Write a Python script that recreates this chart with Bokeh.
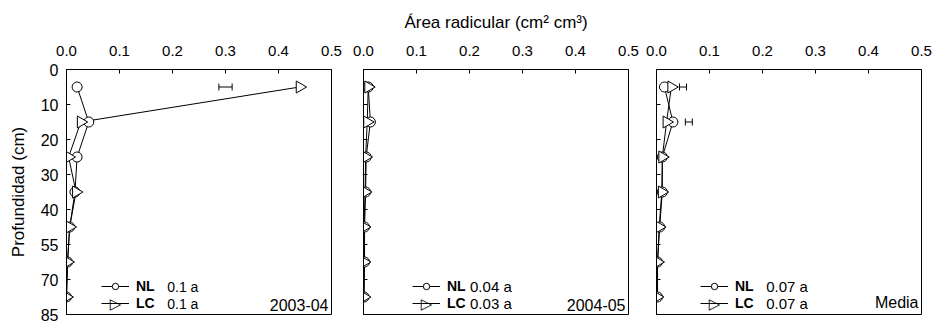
import math
from bokeh.plotting import figure
from bokeh.layouts import row
from bokeh.models import (Range1d, FixedTicker, Legend, LegendItem, Label, Whisker,
                          ColumnDataSource, TeeHead, NumeralTickFormatter)
from bokeh.embed import file_html
from bokeh.resources import INLINE

FONT = "Liberation Sans"

# ---- data ----
depth_labels = ["0", "10", "20", "30", "40", "55", "70", "85"]
depth_pos = [0.5, 1.5, 2.5, 3.5, 4.5, 5.5, 6.5]   # midpoint of each depth layer (layer index)
x_ticks = [0.0, 0.1, 0.2, 0.3, 0.4, 0.5]

panel_names = ["2003-04", "2004-05", "Media"]
nl_2003 = [0.020, 0.042, 0.020, 0.016, 0.006, 0.002, 0.000]
lc_2003 = [0.440, 0.027, 0.004, 0.018, 0.006, 0.002, 0.000]
nl_2004 = [0.009, 0.013, 0.005, 0.004, 0.002, 0.002, 0.001]
lc_2004 = [0.009, 0.007, 0.004, 0.003, 0.001, 0.001, 0.001]
nl_media = [0.015, 0.031, 0.011, 0.011, 0.006, 0.002, 0.002]
lc_media = [0.028, 0.019, 0.011, 0.010, 0.005, 0.002, 0.001]
nl_means = ["0.1 a", "0.04 a", "0.07 a"]
lc_means = ["0.1 a", "0.03 a", "0.07 a"]

err_2003_depth = [0.5]
err_2003_center = [0.300]
err_2003_half = [0.0125]
err_media_depth = [0.5, 1.5]
err_media_center = [0.050, 0.061]
err_media_half = [0.0066, 0.0066]

x_title = "Área radicular (cm² cm³)"
y_title = "Profundidad (cm)"

PX_X = 0.5 / 265.0   # data units per pixel (x)
PX_Y = 7.0 / 245.0   # data units per pixel (y)


def make_panel(idx, nl, lc, err, border_l, border_r, legend_x, mean_x, mean_size):
    p = figure(frame_width=265, frame_height=245, x_range=Range1d(0, 0.5),
               y_range=Range1d(7, 0), x_axis_location="above",
               output_backend="svg", toolbar_location=None,
               min_border_left=border_l, min_border_right=border_r,
               min_border_top=69, min_border_bottom=8)
    p.background_fill_color = "white"
    p.border_fill_color = "white"
    p.outline_line_color = "black"
    p.outline_line_width = 1
    p.outline_line_alpha = 1
    p.xgrid.visible = False
    p.ygrid.visible = False

    xa = p.xaxis[0]
    xa.ticker = FixedTicker(ticks=x_ticks)
    xa.formatter = NumeralTickFormatter(format="0.0")
    xa.major_tick_in = 4
    xa.major_tick_out = 0
    xa.minor_tick_line_color = None
    xa.axis_line_color = "black"
    xa.major_label_text_font = FONT
    xa.major_label_text_font_size = "15px"
    xa.major_label_text_color = "black"
    xa.major_label_standoff = 14
    if idx == 1:
        xa.axis_label = x_title
        xa.axis_label_text_font = FONT
        xa.axis_label_text_font_size = "17px"
        xa.axis_label_text_font_style = "normal"
        xa.axis_label_text_color = "black"
        xa.axis_label_standoff = 11

    ya = p.yaxis[0]
    ya.axis_line_color = "black"
    if idx == 0:
        ya.ticker = FixedTicker(ticks=list(range(len(depth_labels))))
        ya.major_tick_in = 4
        ya.major_tick_out = 0
        ya.minor_tick_line_color = None
        ya.major_label_overrides = {i: s for i, s in enumerate(depth_labels)}
        ya.major_label_text_font = FONT
        ya.major_label_text_font_size = "16px"
        ya.major_label_text_color = "black"
        ya.major_label_standoff = 8
        ya.axis_label = y_title
        ya.axis_label_text_font = FONT
        ya.axis_label_text_font_size = "17px"
        ya.axis_label_text_font_style = "normal"
        ya.axis_label_text_color = "black"
        ya.axis_label_standoff = 10
    else:
        # unlabeled depth ticks (drawn as minor ticks so no label texts exist)
        ya.ticker = FixedTicker(ticks=[], minor_ticks=list(range(len(depth_labels))))
        ya.major_tick_line_color = None
        ya.minor_tick_in = 4
        ya.minor_tick_out = 0
        ya.minor_tick_line_color = "black"
        ya.major_label_standoff = 0

    if err is not None:
        d, c, h = err
        src = ColumnDataSource(dict(depth=d, lower=[a - b for a, b in zip(c, h)],
                                    upper=[a + b for a, b in zip(c, h)]))
        w = Whisker(source=src, base="depth", lower="lower", upper="upper",
                    dimension="width", line_color="black", line_width=1,
                    lower_head=TeeHead(size=7, line_color="black", line_width=1),
                    upper_head=TeeHead(size=7, line_color="black", line_width=1))
        p.add_layout(w)

    nl_line = p.line(nl, depth_pos, line_color="black", line_width=1)
    lc_line = p.line(lc, depth_pos, line_color="black", line_width=1)
    nl_mk = p.scatter(nl, depth_pos, marker="circle", size=10, fill_color="white",
                      line_color="black", line_width=1)
    lc_mk = p.scatter(lc, depth_pos, marker="triangle", size=12, angle=-math.pi / 2,
                      fill_color="white", line_color="black", line_width=1)

    leg = Legend(items=[LegendItem(label="NL", renderers=[nl_line, nl_mk]),
                        LegendItem(label="LC", renderers=[lc_line])],
                 location=(legend_x, 3), orientation="vertical",
                 label_text_font=FONT, label_text_font_size="14px",
                 label_text_font_style="bold", label_text_color="black",
                 glyph_width=28, glyph_height=16, label_height=16, spacing=1,
                 padding=0, margin=0, label_standoff=7,
                 border_line_alpha=0, background_fill_alpha=0)
    p.add_layout(leg)

    # right-pointing triangle symbol for the LC legend entry (legend ignores marker angle)
    lc_row_y = 7 - (3 + 8) * PX_Y
    p.add_layout(Label(x=(legend_x + 14) * PX_X, y=lc_row_y, text="▷",
                       text_font="DejaVu Sans", text_font_size="15px",
                       text_align="center", text_baseline="middle", text_color="black",
                       background_fill_color="white"))

    p.add_layout(Label(x=mean_x, y=lc_row_y - 17 * PX_Y, text=nl_means[idx], text_font=FONT,
                       text_font_size=mean_size, text_baseline="middle",
                       text_color="black"))
    p.add_layout(Label(x=mean_x, y=lc_row_y, text=lc_means[idx], text_font=FONT,
                       text_font_size=mean_size, text_baseline="middle",
                       text_color="black"))
    p.add_layout(Label(x=0.5, y=7, text=panel_names[idx], text_font=FONT,
                       text_font_size="16px", text_align="right",
                       text_baseline="bottom", x_offset=-3, y_offset=4,
                       text_color="black"))
    return p


p1 = make_panel(0, nl_2003, lc_2003, (err_2003_depth, err_2003_center, err_2003_half),
                66, 16, 35, 0.19, "14px")
p2 = make_panel(1, nl_2004, lc_2004, None, 16, 14, 49, 0.201, "15px")
p3 = make_panel(2, nl_media, lc_media, (err_media_depth, err_media_center, err_media_half),
                14, 12, 44, 0.207, "15px")

layout = row(p1, p2, p3)
open("out.html", "w").write(file_html(layout, INLINE))
